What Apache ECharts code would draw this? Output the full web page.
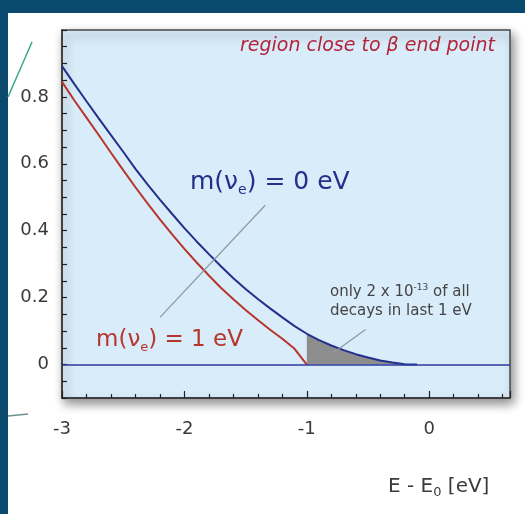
<!DOCTYPE html>
<html>
<head>
<meta charset="utf-8">
<script src="https://cdn.jsdelivr.net/npm/echarts@6/dist/echarts.min.js"></script>
<style>
  html, body { margin: 0; padding: 0; background: #ffffff; }
  #chart { width: 525px; height: 514px; }
</style>
</head>
<body>
<div id="chart"></div>
<script>
// Energy relative to the endpoint, E - E0 [eV]
const energy = [-3.0, -2.9, -2.8, -2.7, -2.6, -2.5, -2.4, -2.3, -2.2, -2.1,
                -2.0, -1.9, -1.8, -1.7, -1.6, -1.5, -1.4, -1.3, -1.2, -1.1,
                -1.0, -0.9, -0.8, -0.7, -0.6, -0.5, -0.4, -0.3, -0.2, -0.1];

// Spectrum for a massless neutrino, m(nu_e) = 0 eV
const rateMassless = [0.892, 0.839, 0.787, 0.736, 0.686, 0.636, 0.585, 0.538, 0.493, 0.450,
                      0.408, 0.368, 0.330, 0.293, 0.258, 0.226, 0.196, 0.168, 0.141, 0.115,
                      0.092, 0.073, 0.057, 0.043, 0.031, 0.021, 0.012, 0.006, 0.001, 0.0];

// Spectrum for m(nu_e) = 1 eV, ends 1 eV below E0
const rateMassive = [0.845, 0.790, 0.738, 0.686, 0.633, 0.581, 0.530, 0.481, 0.434, 0.389,
                     0.346, 0.305, 0.266, 0.229, 0.195, 0.163, 0.133, 0.104, 0.077, 0.047,
                     0.0];

// Axis ticks
const xTicks = [-3, -2, -1, 0];
const yTicks = [0, 0.2, 0.4, 0.6, 0.8];

// Start of the shaded "last 1 eV" region
const lastEvStart = -1.0;

const blueData = energy.map((e, i) => [e, rateMassless[i]]);
const redData = rateMassive.map((v, i) => [energy[i], v]);
const tailData = blueData.filter(p => p[0] >= lastEvStart - 1e-9);

const FONT = 'DejaVu Sans';
const BLUE = '#22308c';
const RED = '#b8352c';
const LEADER = '#8f9aa4';
const INK = '#3a3a3a';

const chart = echarts.init(document.getElementById('chart'), null, { renderer: 'canvas' });

chart.setOption({
  backgroundColor: '#ffffff',
  animation: false,
  grid: {
    show: true,
    left: 62, top: 30, right: 15, bottom: 116,
    backgroundColor: '#d9ecfa',
    borderColor: '#4a4a4a',
    borderWidth: 1.5,
    shadowBlur: 10,
    shadowColor: 'rgba(0,0,0,0.45)',
    shadowOffsetX: 3,
    shadowOffsetY: 5
  },
  xAxis: {
    type: 'value',
    min: -3, max: 0.66, interval: 1,
    axisLine: { show: true, onZero: false, lineStyle: { color: '#333', width: 1.5 } },
    axisTick: { show: true, inside: true, length: 7, lineStyle: { color: '#222', width: 1.2 } },
    minorTick: { show: true, splitNumber: 5, length: 4, lineStyle: { color: '#222', width: 1.2 } },
    splitLine: { show: false },
    axisLabel: {
      showMaxLabel: false,
      margin: 22,
      fontFamily: FONT, fontSize: 18, color: INK,
      formatter: v => xTicks.some(t => Math.abs(t - v) < 1e-6) ? String(v) : ''
    }
  },
  yAxis: {
    type: 'value',
    min: -0.1, max: 1.0, interval: 0.05,
    axisLine: { show: true, onZero: false, lineStyle: { color: '#333', width: 1.5 } },
    axisTick: { show: true, inside: true, length: 5, lineStyle: { color: '#222', width: 1.2 } },
    splitLine: { show: false },
    axisLabel: {
      margin: 13,
      fontFamily: FONT, fontSize: 18, color: INK,
      formatter: v => {
        const t = yTicks.find(t => Math.abs(t - v) < 1e-6);
        return t === undefined ? '' : String(t);
      }
    }
  },
  series: [
    {
      name: 'last 1 eV',
      type: 'line',
      data: tailData,
      symbol: 'none',
      lineStyle: { width: 0 },
      areaStyle: { color: '#8d8d8d', opacity: 1 },
      z: 1,
      silent: true
    },
    {
      name: 'm = 1 eV',
      type: 'line',
      data: redData,
      symbol: 'none',
      lineStyle: { color: RED, width: 2 },
      z: 3
    },
    {
      name: 'm = 0 eV',
      type: 'line',
      data: blueData,
      symbol: 'none',
      lineStyle: { color: BLUE, width: 2 },
      z: 4,
      markLine: {
        silent: true,
        symbol: 'none',
        label: { show: false },
        lineStyle: { color: '#2b3a9e', width: 1.5, type: 'solid' },
        data: [{ yAxis: 0 }]
      }
    },
    {
      // leader lines for the annotations
      type: 'line',
      data: [],
      markLine: {
        silent: true,
        symbol: 'none',
        label: { show: false },
        lineStyle: { color: LEADER, width: 1.3, type: 'solid' },
        data: [
          [{ coord: [-2.20, 0.141] }, { coord: [-1.34, 0.476] }],
          [{ coord: [-0.52, 0.105] }, { coord: [-0.78, 0.036] }]
        ]
      },
      z: 2
    }
  ],
  graphic: [
    { type: 'rect', shape: { x: 0, y: 0, width: 525, height: 13 }, style: { fill: '#0b4a6f' }, z: 100 },
    { type: 'rect', shape: { x: 0, y: 0, width: 8, height: 514 }, style: { fill: '#0b4a6f' }, z: 100 },
    { type: 'line', shape: { x1: 8, y1: 97, x2: 32, y2: 42 }, style: { stroke: '#3aa58c', lineWidth: 1.5 }, z: 100 },
    { type: 'line', shape: { x1: 8, y1: 416, x2: 28, y2: 414 }, style: { stroke: '#6f8f8f', lineWidth: 1.5 }, z: 100 },
    {
      type: 'text', x: 495, y: 46, z: 100,
      style: {
        text: 'region close to β end point',
        fontFamily: FONT, fontStyle: 'italic', fontSize: 19,
        fill: '#b3243a', align: 'right', verticalAlign: 'middle'
      }
    },
    {
      type: 'text', x: 190, y: 182, z: 100,
      style: {
        text: '{a|m(ν}{s|e}{a|) = 0 eV}',
        fill: BLUE, verticalAlign: 'middle',
        rich: {
          a: { fontFamily: FONT, fontSize: 25, lineHeight: 30, fill: BLUE },
          s: { fontFamily: FONT, fontSize: 14, lineHeight: 14, verticalAlign: 'bottom', fill: BLUE }
        }
      }
    },
    {
      type: 'text', x: 96, y: 340, z: 100,
      style: {
        text: '{a|m(ν}{s|e}{a|) = 1 eV}',
        fill: RED, verticalAlign: 'middle',
        rich: {
          a: { fontFamily: FONT, fontSize: 23, lineHeight: 28, fill: RED },
          s: { fontFamily: FONT, fontSize: 13, lineHeight: 13, verticalAlign: 'bottom', fill: RED }
        }
      }
    },
    {
      type: 'text', x: 330, y: 292, z: 100,
      style: {
        text: '{a|only 2 x 10}{s|-13}{a| of all}',
        fill: '#444', verticalAlign: 'middle',
        rich: {
          a: { fontFamily: FONT, fontSize: 15, lineHeight: 18, fill: '#444' },
          s: { fontFamily: FONT, fontSize: 9, lineHeight: 9, verticalAlign: 'top', fill: '#444' }
        }
      }
    },
    {
      type: 'text', x: 330, y: 311, z: 100,
      style: {
        text: 'decays in last 1 eV',
        fontFamily: FONT, fontSize: 15, fill: '#444', verticalAlign: 'middle'
      }
    },
    {
      type: 'text', x: 388, y: 487, z: 100,
      style: {
        text: '{a|E - E}{s|0}{a| [eV]}',
        fill: INK, verticalAlign: 'middle',
        rich: {
          a: { fontFamily: FONT, fontSize: 20, lineHeight: 24, fill: INK },
          s: { fontFamily: FONT, fontSize: 13, lineHeight: 13, verticalAlign: 'bottom', fill: INK }
        }
      }
    }
  ]
});
</script>
</body>
</html>
